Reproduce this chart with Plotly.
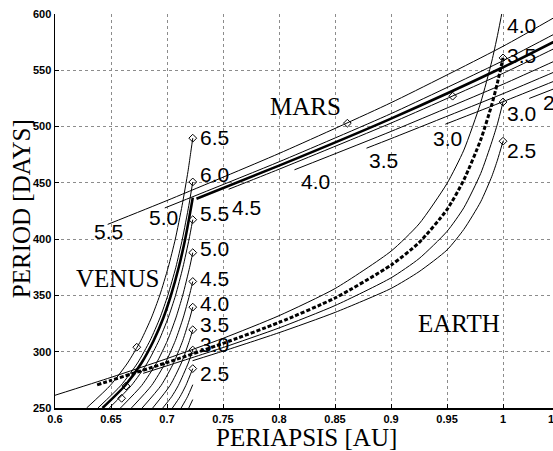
import plotly.graph_objects as go

# ---------------- Venus contours (v_inf, km/s): periapsis [AU] vs period [days]
venus_15_rp = [0.7194, 0.7230]
venus_15_p = [250, 257.5]
venus_20_rp = [0.7126, 0.7183, 0.7230]
venus_20_p = [250, 260, 270.7]
venus_25_rp = [0.7048, 0.7116, 0.7168, 0.7230]
venus_25_p = [250, 260, 270, 285]
venus_30_rp = [0.6962, 0.7041, 0.7101, 0.7190, 0.7230]
venus_30_p = [250, 260, 270, 290, 301.5]
venus_35_rp = [0.6872, 0.7027, 0.7128, 0.7201, 0.7230]
venus_35_p = [250, 270, 290, 310, 319.5]
venus_40_rp = [0.6778, 0.6947, 0.7059, 0.7141, 0.7204, 0.7230]
venus_40_p = [250, 270, 290, 310, 330, 339.6]
venus_45_rp = [0.6682, 0.6862, 0.6985, 0.7075, 0.7144, 0.7200, 0.7230]
venus_45_p = [250, 270, 290, 310, 330, 350, 362.4]
venus_50_rp = [0.6584, 0.6774, 0.6906, 0.7004, 0.7079, 0.7140, 0.7202, 0.7230]
venus_50_p = [250, 270, 290, 310, 330, 350, 375, 388]
venus_55_rp = [0.6484, 0.6682, 0.6824, 0.6928, 0.7010, 0.7076, 0.7142, 0.7197, 0.7230]
venus_55_p = [250, 270, 290, 310, 330, 350, 375, 400, 417.3]
venus_58_rp = [0.6424, 0.6626, 0.6772, 0.6881, 0.6967, 0.7035, 0.7105, 0.7162, 0.7218, 0.7230]
venus_58_p = [250, 270, 290, 310, 330, 350, 375, 400, 430, 436.9]
venus_60_rp = [0.6383, 0.6588, 0.6737, 0.6849, 0.6937, 0.7007, 0.7079, 0.7137, 0.7195, 0.7230]
venus_60_p = [250, 270, 290, 310, 330, 350, 375, 400, 430, 450.8]
venus_65_rp = [0.6282, 0.6493, 0.6648, 0.6767, 0.6860, 0.6935, 0.7011, 0.7074, 0.7135, 0.7187, 0.7209, 0.7230]
venus_65_p = [250, 270, 290, 310, 330, 350, 375, 400, 430, 460, 475, 489.7]

# ---------------- Earth contours
earth_25_rp = [0.7228, 0.75, 0.8, 0.85, 0.9, 0.925, 0.95, 0.965, 0.98, 0.99, 0.995, 1.0]
earth_25_p = [292.0, 300.5, 316.9, 334.9, 356.2, 371.1, 390.4, 408.7, 433.1, 455.8, 470.2, 487.0]
earth_30_rp = [0.6787, 0.7, 0.75, 0.8, 0.85, 0.9, 0.925, 0.95, 0.965, 0.98, 0.99, 0.995, 1.0]
earth_30_p = [280.8, 287.5, 303.7, 321.1, 341.0, 365.6, 382.7, 406.9, 427.9, 458.2, 486.4, 502.4, 521.8]
earth_35_rp = [0.6376, 0.65, 0.7, 0.75, 0.8, 0.85, 0.9, 0.925, 0.95, 0.965, 0.98, 0.99, 0.995, 1.0]
earth_35_p = [270.6, 274.5, 290.4, 307.4, 326.0, 347.7, 376.9, 396.9, 426.3, 452.6, 488.1, 519.6, 538.9, 561.0]
earth_40_rp = [0.6, 0.65, 0.7, 0.75, 0.8, 0.85, 0.9, 0.925, 0.95, 0.965, 0.98, 0.99, 0.995, 1.0]
earth_40_p = [261.3, 277.2, 293.9, 311.9, 332.0, 356.1, 389.3, 413.5, 449.5, 479.1, 521.1, 558.2, 580.8, 606.0]

# ---------------- Mars contours
mars_55_rp = [0.647, 0.7, 0.8, 0.9, 1.0, 1.05]
mars_55_p = [413.1, 434.3, 476.1, 521.2, 571.3, 599.3]
mars_50_rp = [0.698, 0.8, 0.9, 1.0, 1.05]
mars_50_p = [427.7, 468.7, 511.5, 558.5, 584.4]
mars_475_rp = [0.7263, 0.8, 0.9, 1.0, 1.05]
mars_475_p = [435.9, 465.3, 507.1, 552.7, 577.7]
mars_45_rp = [0.755, 0.8, 0.9, 1.0, 1.05]
mars_45_p = [444.3, 462.1, 503.1, 547.3, 571.4]
mars_40_rp = [0.8138, 0.9, 1.0, 1.05]
mars_40_p = [461.6, 495.7, 537.6, 560.0]
mars_35_rp = [0.8781, 0.9, 1.0, 1.05]
mars_35_p = [480.8, 489.3, 529.2, 550.3]
mars_30_rp = [0.9485, 1.0, 1.05]
mars_30_p = [502.1, 522.1, 542.1]
mars_25_rp = [1.0234, 1.05]
mars_25_p = [525.0, 535.3]

# ---------------- diamond markers
diamond_rp = [0.723] * 9 + [1.0, 1.0, 1.0, 0.673, 0.6634, 0.6595, 0.861, 0.955]
diamond_p = [285, 301.5, 319.5, 339.6, 362.4, 388, 417.3, 450.8, 489.7,
             487.0, 521.8, 561.0, 304, 269.5, 258.6, 503, 527]

# ---------------- contour labels
venus_labels = ["2.5", "3.0", "3.5", "4.0", "4.5", "5.0", "5.5", "6.0", "6.5"]
venus_label_p = [281, 306.8, 324.6, 342.4, 364.6, 392, 423, 457.8, 490.7]
earth_labels = ["2.5", "3.0", "3.5", "4.0"]
earth_label_p = [479, 512, 563, 590]
mars_labels = ["5.5", "5.0", "4.5", "4.0", "3.5", "3.0"]
mars_label_rp = [0.648, 0.6973, 0.7714, 0.833, 0.8929, 0.950]
mars_label_p = [407, 419.6, 428.5, 451.6, 470.3, 489.8]

x_ticks = [0.6, 0.65, 0.7, 0.75, 0.8, 0.85, 0.9, 0.95, 1.0]
x_tick_text = ["0.6", "0.65", "0.7", "0.75", "0.8", "0.85", "0.9", "0.95", "1"]
y_ticks = [250, 300, 350, 400, 450, 500, 550, 600]

fig = go.Figure()


def add_curve(rp, p, width=1.0, dash="solid"):
    fig.add_trace(go.Scatter(
        x=rp, y=p, mode="lines",
        line=dict(color="black", width=width, dash=dash, shape="spline", smoothing=0.6),
        hoverinfo="skip", showlegend=False))


for rp, p in [(venus_15_rp, venus_15_p), (venus_20_rp, venus_20_p), (venus_25_rp, venus_25_p),
              (venus_30_rp, venus_30_p), (venus_35_rp, venus_35_p), (venus_40_rp, venus_40_p),
              (venus_45_rp, venus_45_p), (venus_50_rp, venus_50_p), (venus_55_rp, venus_55_p),
              (venus_60_rp, venus_60_p), (venus_65_rp, venus_65_p)]:
    add_curve(rp, p)
add_curve(venus_58_rp, venus_58_p, width=2.6)

for rp, p in [(earth_25_rp, earth_25_p), (earth_30_rp, earth_30_p), (earth_40_rp, earth_40_p)]:
    add_curve(rp, p)
add_curve(earth_35_rp, earth_35_p, width=3, dash="4px,2px")

for rp, p in [(mars_55_rp, mars_55_p), (mars_50_rp, mars_50_p), (mars_45_rp, mars_45_p),
              (mars_40_rp, mars_40_p), (mars_35_rp, mars_35_p), (mars_30_rp, mars_30_p),
              (mars_25_rp, mars_25_p)]:
    add_curve(rp, p)
add_curve(mars_475_rp, mars_475_p, width=2.6)

fig.add_trace(go.Scatter(
    x=diamond_rp, y=diamond_p, mode="markers",
    marker=dict(symbol="diamond-open", size=6, color="black", line=dict(width=1, color="black")),
    hoverinfo="skip", showlegend=False))

num_font = dict(family="Liberation Sans, Arial, sans-serif", size=21, color="black")
serif_font = dict(family="Liberation Serif, Times New Roman, serif", size=25, color="black")

annotations = []
for t, p in zip(venus_labels, venus_label_p):
    annotations.append(dict(x=0.7277, y=p, xref="x", yref="y", text=t, showarrow=False,
                            xanchor="left", yanchor="middle", font=num_font))
for t, p in zip(earth_labels, earth_label_p):
    annotations.append(dict(x=1.002, y=p, xref="x", yref="y", text=t, showarrow=False,
                            xanchor="left", yanchor="middle", font=num_font))
for t, x, p in zip(mars_labels, mars_label_rp, mars_label_p):
    annotations.append(dict(x=x, y=p, xref="x", yref="y", text=t, showarrow=False,
                            xanchor="center", yanchor="middle", font=num_font))
# Mars 2.5 label, cut by the right edge
annotations.append(dict(x=0.976, y=521.8, xref="paper", yref="y", text="2.5", showarrow=False,
                        xanchor="left", yanchor="middle", font=num_font))
# planet names
annotations.append(dict(x=0.6558, y=364.6, xref="x", yref="y", text="VENUS", showarrow=False,
                        xanchor="center", yanchor="middle", font=serif_font))
annotations.append(dict(x=0.8232, y=518.2, xref="x", yref="y", text="MARS", showarrow=False,
                        xanchor="center", yanchor="middle", font=serif_font))
annotations.append(dict(x=0.9603, y=325.5, xref="x", yref="y", text="EARTH", showarrow=False,
                        xanchor="center", yanchor="middle", font=serif_font))
# axis titles
annotations.append(dict(x=0.506, y=-0.076, xref="paper", yref="paper", text="PERIAPSIS [AU]",
                        showarrow=False, xanchor="center", yanchor="middle", font=serif_font))
annotations.append(dict(x=-0.068, y=0.505, xref="paper", yref="paper", text="PERIOD [DAYS]",
                        showarrow=False, xanchor="center", yanchor="middle", textangle=-90,
                        font=serif_font))
# partially visible 1.05 tick label
tick_font = dict(family="Liberation Sans, Arial, sans-serif", size=11, color="black", weight="bold")
annotations.append(dict(x=1.012, y=-0.028, xref="paper", yref="paper", text="1.05",
                        showarrow=False, xanchor="center", yanchor="middle", font=tick_font))

fig.update_layout(
    width=553, height=451,
    margin=dict(l=55, r=0, t=14, b=43, autoexpand=False),
    paper_bgcolor="white", plot_bgcolor="white",
    showlegend=False,
    annotations=annotations,
)
fig.update_xaxes(
    range=[0.6, 1.0446], tickvals=x_ticks, ticktext=x_tick_text,
    showgrid=True, gridcolor="#8c8c8c", griddash="dot", gridwidth=1,
    showline=True, linecolor="black", linewidth=1.5,
    ticks="inside", ticklen=4, tickcolor="black",
    tickfont=tick_font, zeroline=False,
)
fig.update_yaxes(
    range=[250, 600], tickvals=y_ticks,
    showgrid=True, gridcolor="#8c8c8c", griddash="dot", gridwidth=1,
    showline=True, linecolor="black", linewidth=1.5,
    ticks="inside", ticklen=4, tickcolor="black",
    tickfont=tick_font, zeroline=False,
)

fig.write_html(
    "out.html",
    config={"displayModeBar": False, "staticPlot": True},
    post_script="document.body.style.margin='0px';document.body.style.overflow='hidden';",
)
